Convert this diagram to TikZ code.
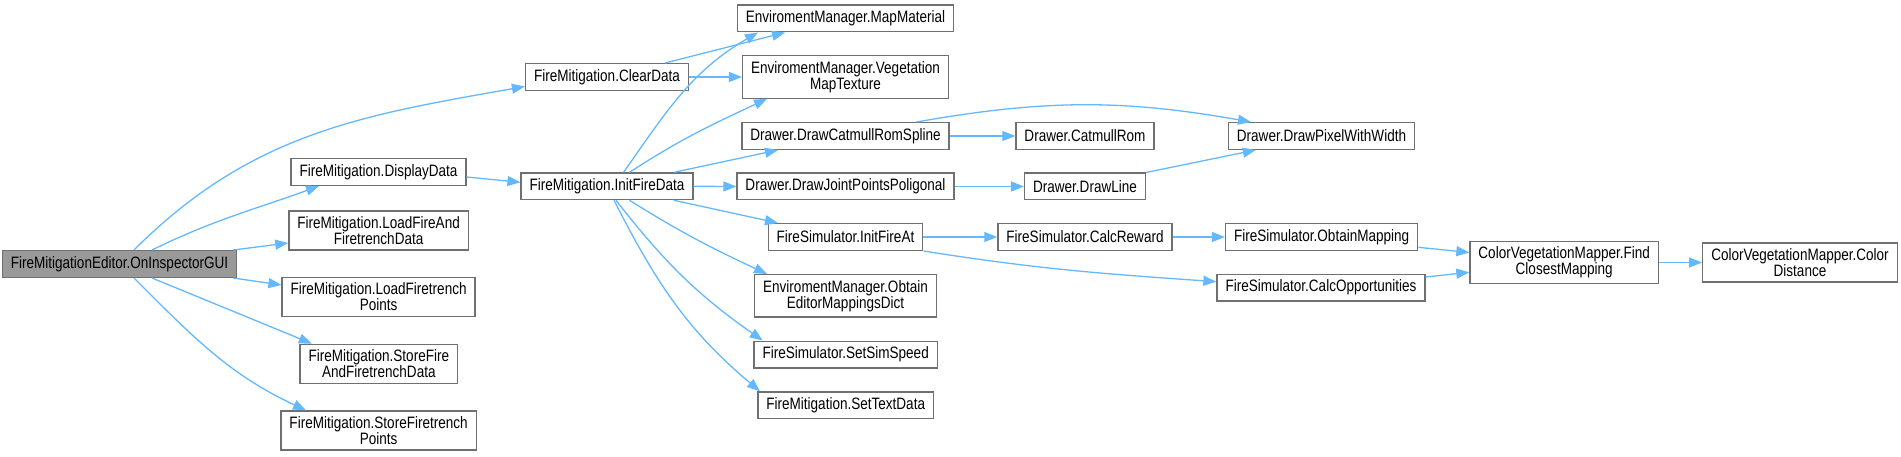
\documentclass[tikz,border=0pt]{standalone}
\usepackage{fontspec}
\setmainfont{Liberation Sans}[FakeStretch=0.82]
\usetikzlibrary{arrows.meta}

\definecolor{edgeblue}{HTML}{63B8FF}
\definecolor{boxgray}{HTML}{707070}
\definecolor{rootfill}{HTML}{999999}

\begin{document}
\begin{tikzpicture}[
    x=1pt, y=-1pt,
    font=\fontsize{16.5}{16}\selectfont,
    fbase/.style  = {draw=boxgray, line width=1.3pt, rectangle, align=center,
                     inner xsep=8.5pt, inner ysep=5.5pt,
                     minimum height=26.7pt},
    fnode/.style  = {fbase, fill=white},
    froot/.style  = {fbase, fill=rootfill},
    call/.style   = {-{Triangle[length=13pt,width=10pt]}, line width=1.3pt,
                     draw=edgeblue},
  ]
  \useasboundingbox (0,0) rectangle (1901,457);

  \node[froot] (gui) at (119.5, 264.0) {FireMitigationEditor.OnInspectorGUI};
  \node[fnode] (clear) at (607.0, 77.0) {FireMitigation.ClearData};
  \node[fnode] (display) at (378.5, 172.0) {FireMitigation.DisplayData};
  \node[fnode] (loadfire) at (378.6, 230.5) {FireMitigation.LoadFireAnd\\FiretrenchData};
  \node[fnode] (loadpts) at (378.6, 297.0) {FireMitigation.LoadFiretrench\\Points};
  \node[fnode] (storefire) at (378.8, 363.8) {FireMitigation.StoreFire\\AndFiretrenchData};
  \node[fnode] (storepts) at (378.6, 430.5) {FireMitigation.StoreFiretrench\\Points};
  \node[fnode] (initdata) at (607.0, 186.3) {FireMitigation.InitFireData};
  \node[fnode] (mapmat) at (845.5, 18.5) {EnviromentManager.MapMaterial};
  \node[fnode] (vegtex) at (845.5, 77.0) {EnviromentManager.Vegetation\\MapTexture};
  \node[fnode] (spline) at (845.5, 136.0) {Drawer.DrawCatmullRomSpline};
  \node[fnode] (joint) at (845.5, 186.5) {Drawer.DrawJointPointsPoligonal};
  \node[fnode] (initat) at (845.5, 237.0) {FireSimulator.InitFireAt};
  \node[fnode] (mapdict) at (845.5, 295.8) {EnviromentManager.Obtain\\EditorMappingsDict};
  \node[fnode] (speed) at (845.7, 354.5) {FireSimulator.SetSimSpeed};
  \node[fnode] (textdata) at (845.7, 405.3) {FireMitigation.SetTextData};
  \node[fnode] (catmull) at (1085.0, 136.0) {Drawer.CatmullRom};
  \node[fnode] (line) at (1085.0, 186.5) {Drawer.DrawLine};
  \node[fnode] (reward) at (1085.0, 237.0) {FireSimulator.CalcReward};
  \node[fnode] (pixel) at (1321.5, 136.0) {Drawer.DrawPixelWithWidth};
  \node[fnode] (obtain) at (1321.6, 237.0) {FireSimulator.ObtainMapping};
  \node[fnode] (opport) at (1321.0, 287.7) {FireSimulator.CalcOpportunities};
  \node[fnode] (closest) at (1564.2, 262.5) {ColorVegetationMapper.Find\\ClosestMapping};
  \node[fnode] (coldist) at (1800.0, 262.5) {ColorVegetationMapper.Color\\Distance};

  \draw[call] ([xshift=14.5pt]gui.north) to[out=45, in=190] ([yshift=-9.5pt]clear.west);
  \draw[call] ([xshift=32.5pt]gui.north) to[out=26, in=200] ([xshift=-59.5pt]display.south);
  \draw[call] ([xshift=-4pt]gui.north east) -- ([yshift=-12.5pt]loadfire.west);
  \draw[call] ([xshift=-4pt]gui.south east) -- ([yshift=12pt]loadpts.west);
  \draw[call] ([xshift=32.5pt]gui.south) -- ([xshift=-67pt]storefire.north);
  \draw[call] ([xshift=14.5pt]gui.south) to[out=-45, in=155] ([xshift=-72.6pt]storepts.north);
  \draw[call] ([yshift=-5pt]display.east) -- ([yshift=4pt]initdata.west);
  \draw[call] ([xshift=58pt]clear.north) -- ([xshift=-60.5pt]mapmat.south);
  \draw[call] (clear.east) -- (vegtex.west);
  \draw[call] ([xshift=16.6pt]initdata.north) to[out=55, in=210] ([xshift=-87.5pt]mapmat.south);
  \draw[call] ([xshift=22.5pt]initdata.north) to[out=33, in=205] ([xshift=-78.5pt]vegtex.south);
  \draw[call] ([xshift=67pt]initdata.north) -- ([xshift=-67.5pt]spline.south);
  \draw[call] (initdata.east) -- (joint.west);
  \draw[call] ([xshift=67pt]initdata.south) -- ([xshift=-67.5pt]initat.north);
  \draw[call] ([xshift=22.5pt]initdata.south) to[out=-32, in=155] ([xshift=-78.5pt]mapdict.north);
  \draw[call] ([xshift=9pt]initdata.south) to[out=-52, in=145] ([xshift=-83pt]speed.north);
  \draw[call] ([xshift=7pt]initdata.south) to[out=-63, in=140] ([xshift=-85.7pt]textdata.north);
  \draw[call] (spline.east) -- (catmull.west);
  \draw[call] ([xshift=71pt]spline.north) to[out=10, in=170] ([xshift=-70.5pt]pixel.north);
  \draw[call] (joint.east) -- (line.west);
  \draw[call] (line.north east) -- ([xshift=-65.7pt]pixel.south);
  \draw[call] (initat.east) -- (reward.west);
  \draw[call] (initat.south east) to[out=-9, in=176] ([yshift=6pt]opport.west);
  \draw[call] (reward.east) -- (obtain.west);
  \draw[call] ([yshift=-10.3pt]obtain.east) -- ([yshift=10pt]closest.west);
  \draw[call] ([yshift=10.7pt]opport.east) -- ([yshift=-9.8pt]closest.west);
  \draw[call] (closest.east) -- (coldist.west);

\end{tikzpicture}
\end{document}
